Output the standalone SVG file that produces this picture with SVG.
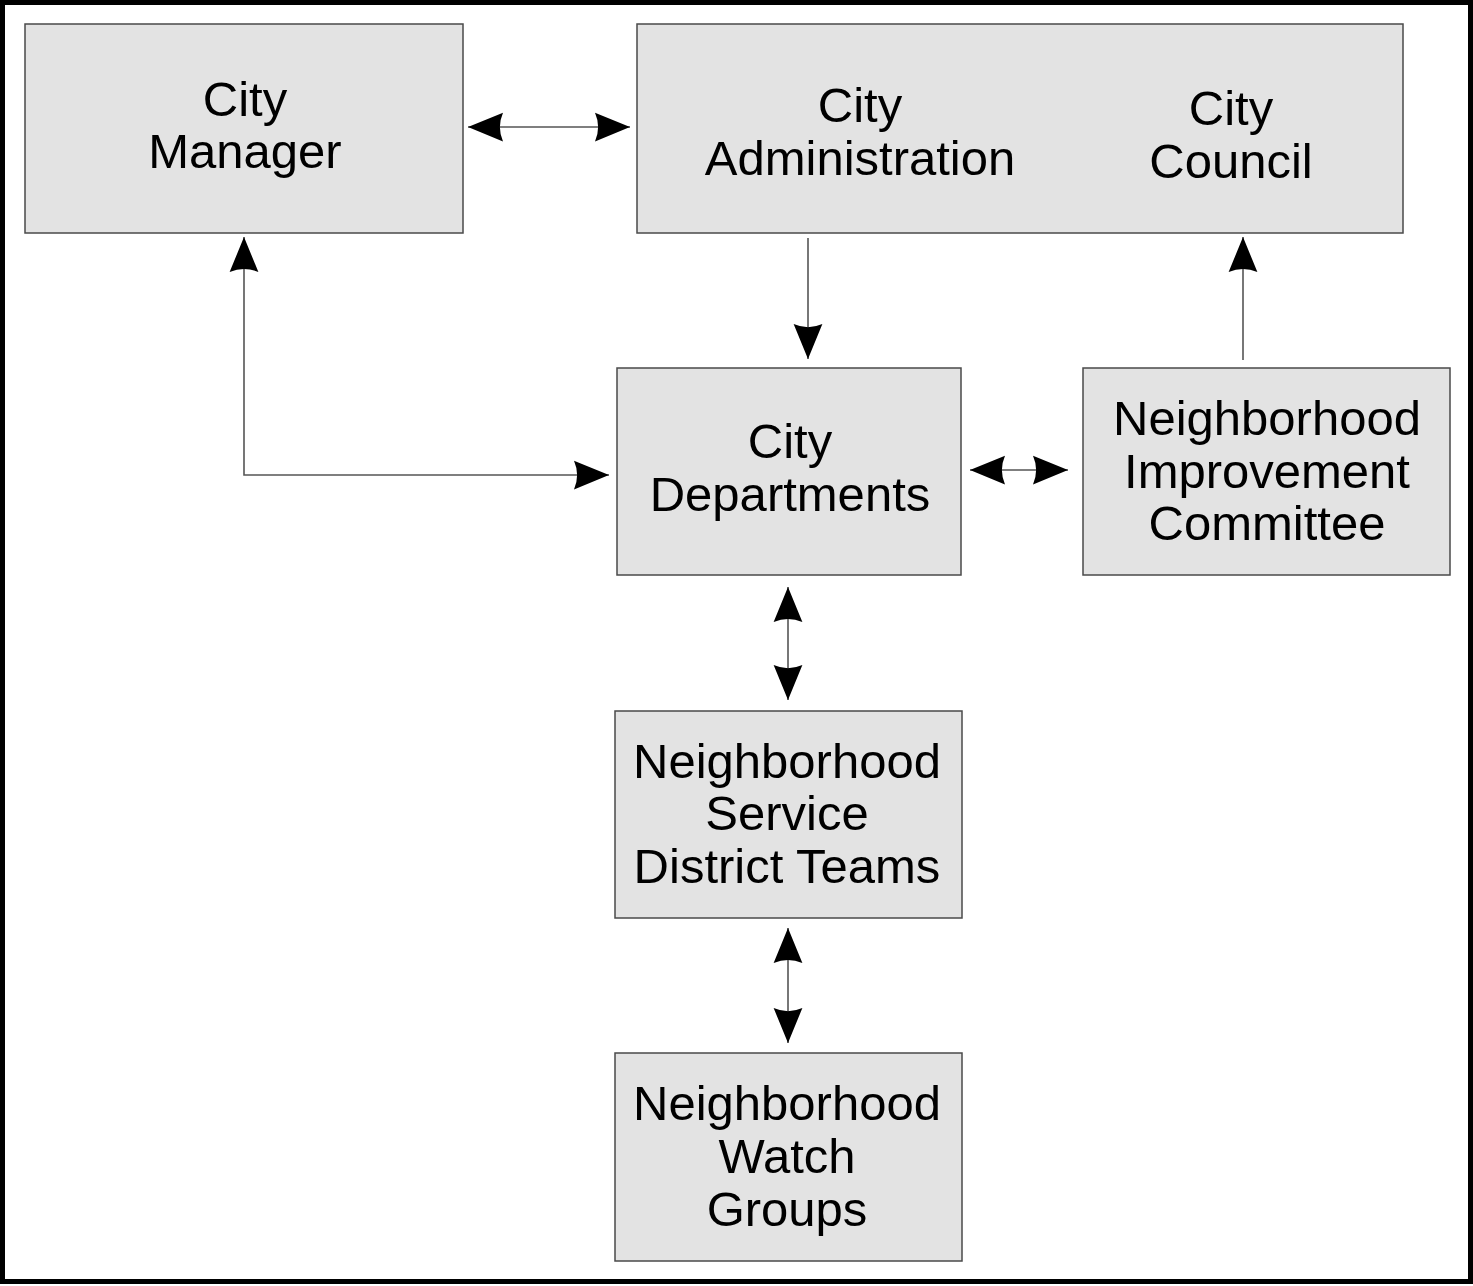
<svg xmlns="http://www.w3.org/2000/svg" width="1473" height="1286" viewBox="0 0 1473 1286">
<style>
.box{fill:#e3e3e3;stroke:#4a4a4a;stroke-width:1.5}
.t{font-family:"Liberation Sans",Arial,sans-serif;font-size:49px;fill:#000;text-anchor:middle}
.c{fill:none;stroke:#555;stroke-width:1.6}
</style>
<defs>
<marker id="ah" markerUnits="userSpaceOnUse" markerWidth="40" markerHeight="40" viewBox="-30 -15 32 30" refX="0" refY="0" orient="auto-start-reverse">
<path d="M0,0 L-28,-11.5 Q-23,0 -28,11.5 Z" fill="#000"/>
</marker>
</defs>
<rect x="2.5" y="2.5" width="1468" height="1279" fill="#fff" stroke="#000" stroke-width="5"/>
<g id="connectors">
<line class="c" x1="468" y1="127" x2="630" y2="127" marker-start="url(#ah)" marker-end="url(#ah)"/>
<line class="c" x1="808" y1="238" x2="808" y2="359" marker-end="url(#ah)"/>
<line class="c" x1="1243" y1="360" x2="1243" y2="237" marker-end="url(#ah)"/>
<polyline class="c" points="244,237 244,475 609,475" marker-start="url(#ah)" marker-end="url(#ah)"/>
<line class="c" x1="970" y1="470" x2="1068" y2="470" marker-start="url(#ah)" marker-end="url(#ah)"/>
<line class="c" x1="788" y1="587" x2="788" y2="700" marker-start="url(#ah)" marker-end="url(#ah)"/>
<line class="c" x1="788" y1="928" x2="788" y2="1043" marker-start="url(#ah)" marker-end="url(#ah)"/>
</g>
<g id="city-manager">
<rect class="box" x="25" y="24" width="438" height="209"/>
<text class="t" x="245" y="116">City</text>
<text class="t" x="245" y="168">Manager</text>
</g>
<g id="city-admin-council">
<rect class="box" x="637" y="24" width="766" height="209"/>
<text class="t" x="860" y="122">City</text>
<text class="t" x="860" y="175">Administration</text>
<text class="t" x="1231" y="125">City</text>
<text class="t" x="1231" y="178">Council</text>
</g>
<g id="city-departments">
<rect class="box" x="617" y="368" width="344" height="207"/>
<text class="t" x="790" y="458">City</text>
<text class="t" x="790" y="511">Departments</text>
</g>
<g id="nic">
<rect class="box" x="1083" y="368" width="367" height="207"/>
<text class="t" x="1267" y="435">Neighborhood</text>
<text class="t" x="1267" y="488">Improvement</text>
<text class="t" x="1267" y="540">Committee</text>
</g>
<g id="nsdt">
<rect class="box" x="615" y="711" width="347" height="207"/>
<text class="t" x="787" y="778">Neighborhood</text>
<text class="t" x="787" y="830">Service</text>
<text class="t" x="787" y="883">District Teams</text>
</g>
<g id="nwg">
<rect class="box" x="615" y="1053" width="347" height="208"/>
<text class="t" x="787" y="1120">Neighborhood</text>
<text class="t" x="787" y="1173">Watch</text>
<text class="t" x="787" y="1226">Groups</text>
</g>
</svg>
